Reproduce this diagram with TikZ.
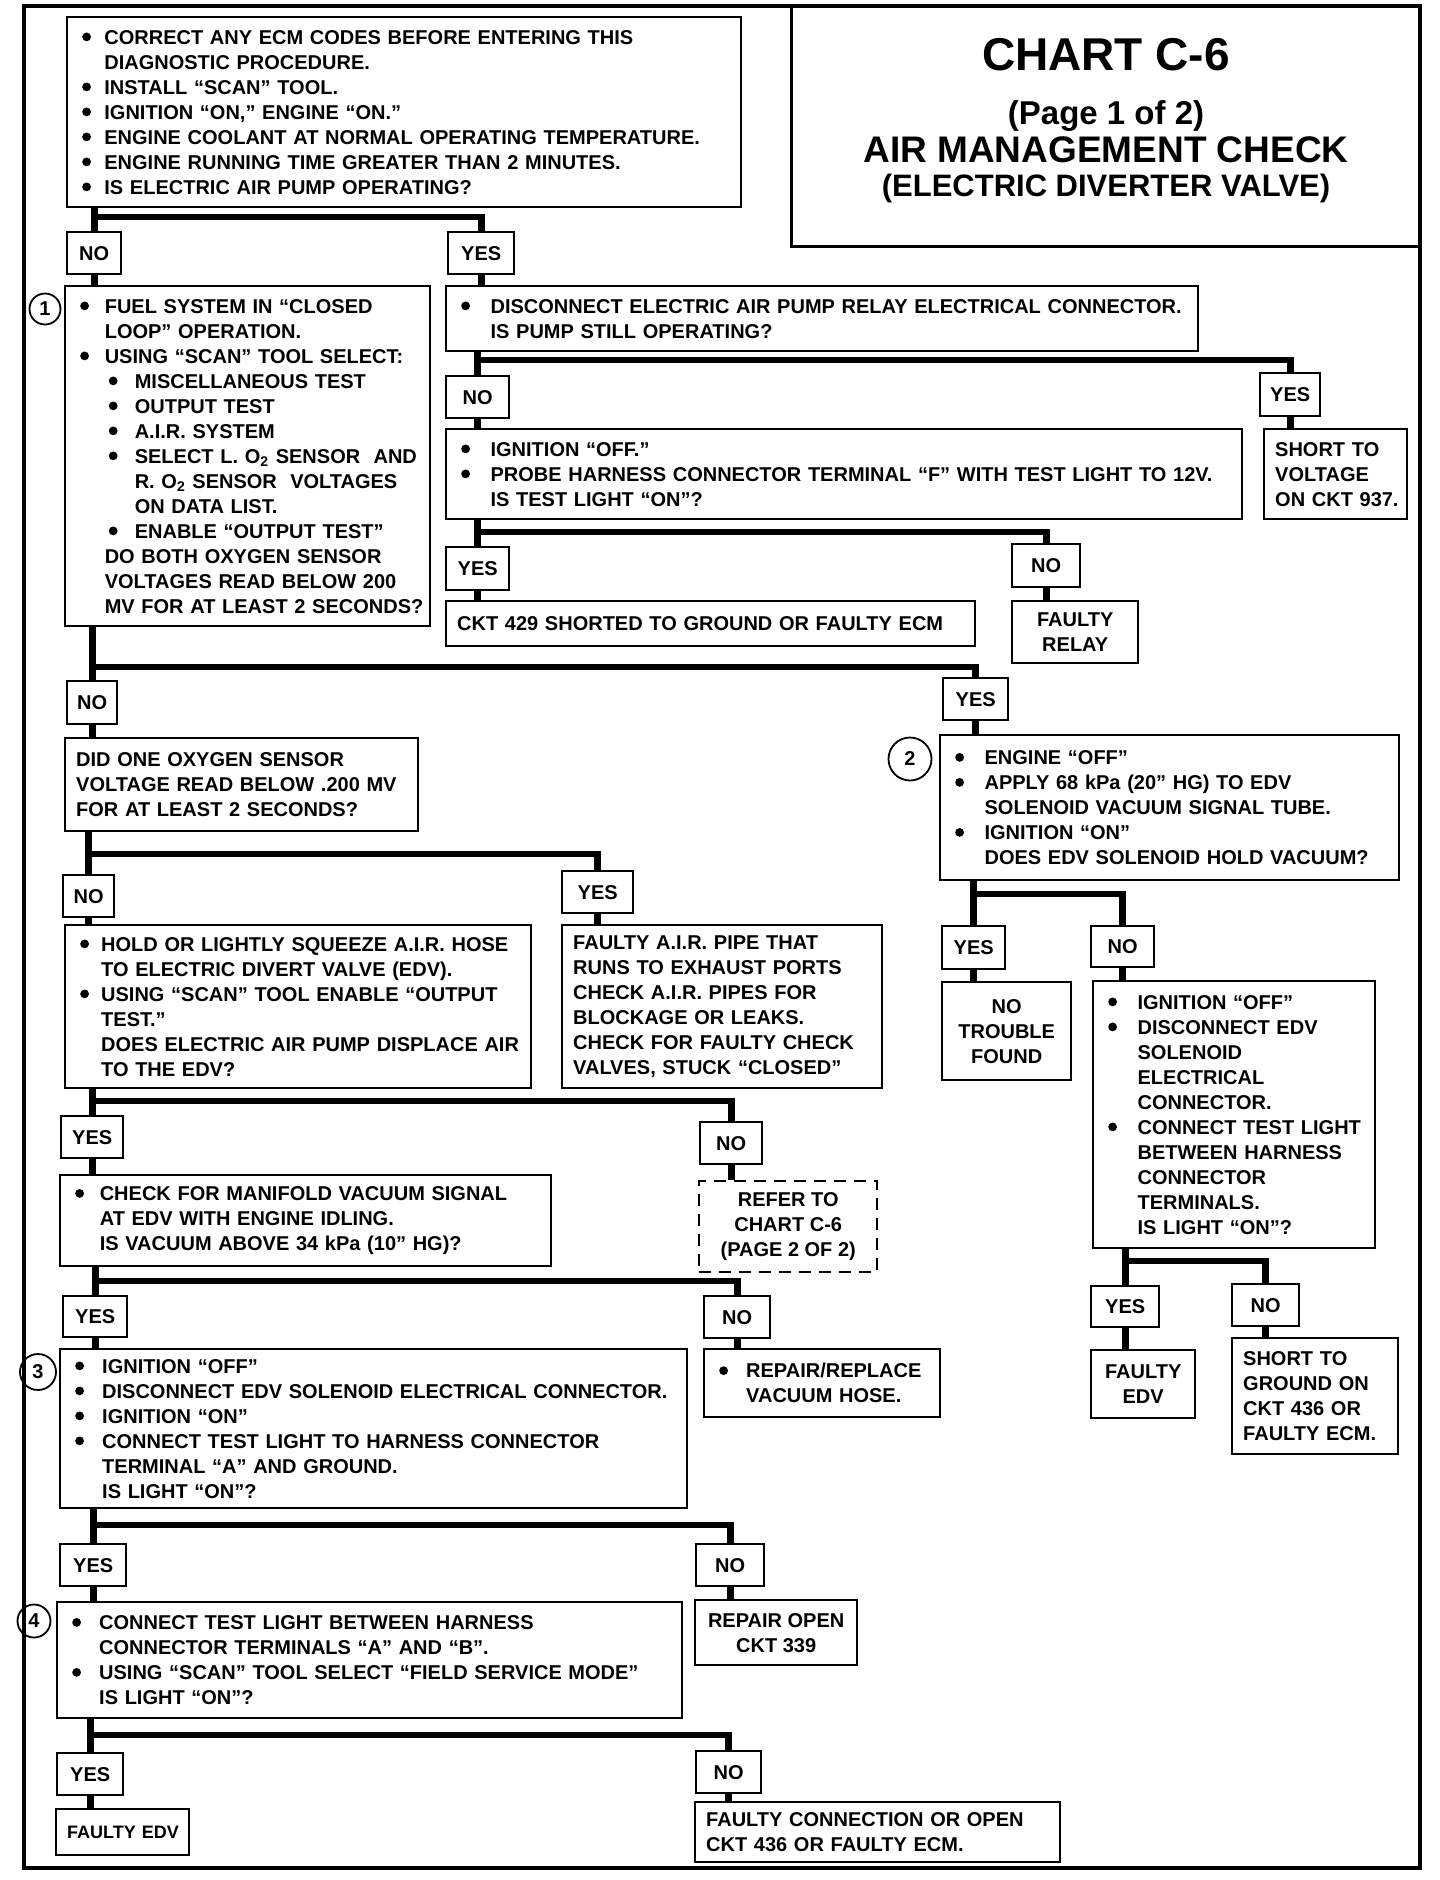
\documentclass[tikz,border=0pt]{standalone}
\usepackage{fontspec}
\setmainfont{Liberation Sans}
\usetikzlibrary{calc}
\tikzset{
  box/.style={draw, line width=1.2pt, inner xsep=5.5pt, inner ysep=2pt, align=left, font=\bfseries\fontsize{10}{12.5}\selectfont},
  cbox/.style={draw, line width=1.2pt, inner sep=2pt, align=center, font=\bfseries\fontsize{10}{12.5}\selectfont},
  conn/.style={line width=3.4pt},
  circ/.style={circle, draw, line width=0.9pt, inner sep=0pt, font=\bfseries\fontsize{10}{12}\selectfont},
  frame/.style={line width=1.8pt},
  ttl/.style={anchor=base, inner sep=0pt},
}
\def\IND{14pt}
\newcommand\myBul{\hspace{2pt}\tikz[baseline=0pt]\fill (2.2pt,3.6pt) circle[radius=2.2pt];}
\newcommand\Lb[2][\IND]{\makebox[#1][l]{\myBul}\mbox{#2}}
\newcommand\Lc[2][\IND]{\hspace*{#1}\mbox{#2}}
\newcommand\Ls[2][\IND]{\hspace*{#1}\makebox[15pt][l]{\myBul}\mbox{#2}}
\newcommand\Lss[2][\IND]{\hspace*{#1}\hspace*{15pt}\mbox{#2}}
\newcommand\Lp[1]{\mbox{#1}}
\newcommand\tbox[7][]{%
 \pgfmathsetmacro\myW{(#5-#3)*0.5}%
 \pgfmathsetmacro\myH{(#6-#4)*0.5}%
 \pgfmathsetmacro\myT{(#5-#3)*0.5-11}%
 \node[box, anchor=north west, minimum width=\myW pt, minimum height=\myH pt, text width=\myT pt, #1] (#2) at (#3,#4) {#7};}
\newcommand\cbx[7][]{%
 \pgfmathsetmacro\myW{(#5-#3)*0.5}%
 \pgfmathsetmacro\myH{(#6-#4)*0.5}%
 \node[cbox, anchor=north west, minimum width=\myW pt, minimum height=\myH pt, #1] (#2) at (#3,#4) {#7};}
\newcommand\mybranch[4]{%
 \draw[conn] (#1.south -| #2.north) -- (#2.north);
 \draw[conn] (#2.north |- #4) -| (#3.north);}
\newcommand\mystub[2]{\draw[conn] (#1.south) -- (#1.south |- #2.north);}
\begin{document}
\begin{tikzpicture}[x=0.5pt,y=-0.5pt]
\fill[white] (0,0) rectangle (1440,1880);
\useasboundingbox (0,0) rectangle (1440,1880);
\draw[frame] (24,6) rectangle (1420,1868);

% title
\cbx[draw=none, outer sep=0pt]{nTitle}{791}{6}{1420}{246}{}
\draw[line width=1.5pt] (nTitle.north west) |- (nTitle.south east);
\node[ttl, font=\bfseries\fontsize{23}{26}\selectfont] (t1) at (1106,70) {CHART C-6};
\node[ttl, font=\bfseries\fontsize{16.5}{18}\selectfont] (t2) at (1106,124) {(Page 1 of 2)};
\node[ttl, font=\bfseries\fontsize{18.5}{20}\selectfont] (t3) at (1106,162) {AIR MANAGEMENT CHECK};
\node[ttl, font=\bfseries\fontsize{15.5}{18}\selectfont] (t4) at (1106,196) {(ELECTRIC DIVERTER VALVE)};

% top box
\def\IND{13.1pt}
\tbox{nTop}{66}{16}{740}{206}{\Lb{CORRECT ANY ECM CODES BEFORE ENTERING THIS}\\
\Lc{DIAGNOSTIC PROCEDURE.}\\
\Lb{INSTALL “SCAN” TOOL.}\\
\Lb{IGNITION “ON,” ENGINE “ON.”}\\
\Lb{ENGINE COOLANT AT NORMAL OPERATING TEMPERATURE.}\\
\Lb{ENGINE RUNNING TIME GREATER THAN 2 MINUTES.}\\
\Lb{IS ELECTRIC AIR PUMP OPERATING?}}

\cbx{lNo1}{66}{231}{120}{273}{NO}
\cbx{lYes1}{447}{231}{513}{273}{YES}

% box 1
\node[circ, minimum size=15.5pt] (c1) at (45,309) {1};
\def\IND{14.3pt}
\tbox{b1}{64}{285}{429}{625}{\Lb{FUEL SYSTEM IN “CLOSED}\\
\Lc{LOOP” OPERATION.}\\
\Lb{USING “SCAN” TOOL SELECT:}\\
\Ls{MISCELLANEOUS TEST}\\
\Ls{OUTPUT TEST}\\
\Ls{A.I.R. SYSTEM}\\
\Ls{SELECT L. O\textsubscript{2} SENSOR~ AND}\\
\Lss{R. O\textsubscript{2} SENSOR~ VOLTAGES}\\
\Lss{ON DATA LIST.}\\
\Ls{ENABLE “OUTPUT TEST”}\\
\Lc{DO BOTH OXYGEN SENSOR}\\
\Lc{VOLTAGES READ BELOW 200}\\
\Lc{MV FOR AT LEAST 2 SECONDS?}}

% right column upper
\def\IND{16.7pt}
\tbox{bR1}{445}{285}{1197}{350}{\Lb{DISCONNECT ELECTRIC AIR PUMP RELAY ELECTRICAL CONNECTOR.}\\
\Lc{IS PUMP STILL OPERATING?}}
\cbx{lNo2}{445}{375}{508}{417}{NO}
\cbx{lYes2}{1259}{372}{1319}{415}{YES}
\tbox{bShortV}{1263}{428}{1406}{518}{\Lp{SHORT TO}\\ \Lp{VOLTAGE}\\ \Lp{ON CKT 937.}}
\tbox{bR2}{445}{428}{1241}{518}{\Lb{IGNITION “OFF.”}\\
\Lb{PROBE HARNESS CONNECTOR TERMINAL “F” WITH TEST LIGHT TO 12V.}\\
\Lc{IS TEST LIGHT “ON”?}}
\cbx{lYes3}{445}{546}{508}{589}{YES}
\cbx{lNo3}{1011}{543}{1079}{586}{NO}
\tbox{b429}{445}{600}{974}{645}{\Lp{CKT 429 SHORTED TO GROUND OR FAULTY ECM}}
\cbx{bRelay}{1011}{600}{1137}{662}{FAULTY\\RELAY}

\cbx{lNo4}{66}{680}{116}{723}{NO}
\cbx{lYes4}{942}{677}{1007}{719}{YES}

\tbox{bL2}{64}{737}{417}{830}{\Lp{DID ONE OXYGEN SENSOR}\\
\Lp{VOLTAGE READ BELOW .200 MV}\\
\Lp{FOR AT LEAST 2 SECONDS?}}

\node[circ, minimum size=21.5pt] (c2) at (910,759) {2};
\def\IND{16.7pt}
\tbox{bR3}{939}{734}{1398}{879}{\Lb{ENGINE “OFF”}\\
\Lb{APPLY 68 kPa (20” HG) TO EDV}\\
\Lc{SOLENOID VACUUM SIGNAL TUBE.}\\
\Lb{IGNITION “ON”}\\
\Lc{DOES EDV SOLENOID HOLD VACUUM?}}

\cbx{lNo5}{62}{874}{113}{916}{NO}
\cbx{lYes5}{561}{870}{632}{912}{YES}
\def\IND{12.5pt}
\tbox{bL3}{64}{924}{530}{1087}{\Lb{HOLD OR LIGHTLY SQUEEZE A.I.R. HOSE}\\
\Lc{TO ELECTRIC DIVERT VALVE (EDV).}\\
\Lb{USING “SCAN” TOOL ENABLE “OUTPUT}\\
\Lc{TEST.”}\\
\Lc{DOES ELECTRIC AIR PUMP DISPLACE AIR}\\
\Lc{TO THE EDV?}}
\tbox{bAir}{561}{924}{881}{1087}{\Lp{FAULTY A.I.R. PIPE THAT}\\
\Lp{RUNS TO EXHAUST PORTS}\\
\Lp{CHECK A.I.R. PIPES FOR}\\
\Lp{BLOCKAGE OR LEAKS.}\\
\Lp{CHECK FOR FAULTY CHECK}\\
\Lp{VALVES, STUCK “CLOSED”}}

\cbx{lYes6}{941}{925}{1004}{968}{YES}
\cbx{lNo6}{1090}{925}{1153}{966}{NO}
\cbx{bNTF}{941}{981}{1070}{1079}{NO\\TROUBLE\\FOUND}
\def\IND{16.7pt}
\tbox{bR4}{1092}{980}{1374}{1247}{\Lb{IGNITION “OFF”}\\
\Lb{DISCONNECT EDV}\\
\Lc{SOLENOID}\\
\Lc{ELECTRICAL}\\
\Lc{CONNECTOR.}\\
\Lb{CONNECT TEST LIGHT}\\
\Lc{BETWEEN HARNESS}\\
\Lc{CONNECTOR}\\
\Lc{TERMINALS.}\\
\Lc{IS LIGHT “ON”?}}

\cbx{lYes7}{60}{1115}{122}{1157}{YES}
\cbx{lNo7}{699}{1121}{761}{1163}{NO}
\def\IND{14.3pt}
\tbox{bL4}{59}{1174}{550}{1265}{\Lb{CHECK FOR MANIFOLD VACUUM SIGNAL}\\
\Lc{AT EDV WITH ENGINE IDLING.}\\
\Lc{IS VACUUM ABOVE 34 kPa (10” HG)?}}
\cbx[dashed, dash pattern=on 6pt off 4pt]{bRefer}{698}{1180}{876}{1271}{REFER TO\\CHART C-6\\(PAGE 2 OF 2)}

\cbx{lYes8}{62}{1295}{126}{1336}{YES}
\cbx{lNo8}{703}{1295}{769}{1337}{NO}
\node[circ, minimum size=18pt] (c3) at (38,1372) {3};
\def\IND{15.5pt}
\tbox{bL5}{59}{1348}{686}{1507}{\Lb{IGNITION “OFF”}\\
\Lb{DISCONNECT EDV SOLENOID ELECTRICAL CONNECTOR.}\\
\Lb{IGNITION “ON”}\\
\Lb{CONNECT TEST LIGHT TO HARNESS CONNECTOR}\\
\Lc{TERMINAL “A” AND GROUND.}\\
\Lc{IS LIGHT “ON”?}}
\tbox{bRepl}{703}{1348}{939}{1416}{\Lb{REPAIR/REPLACE}\\
\Lc{VACUUM HOSE.}}

\cbx{lYes9}{1090}{1285}{1158}{1326}{YES}
\cbx{lNo9}{1231}{1283}{1298}{1325}{NO}
\cbx{bFEdv1}{1090}{1349}{1194}{1417}{FAULTY\\EDV}
\tbox{bSG}{1231}{1337}{1397}{1453}{\Lp{SHORT TO}\\
\Lp{GROUND ON}\\
\Lp{CKT 436 OR}\\
\Lp{FAULTY ECM.}}

\cbx{lYes10}{59}{1543}{125}{1585}{YES}
\cbx{lNo10}{695}{1543}{763}{1585}{NO}
\node[circ, minimum size=16.5pt] (c4) at (34,1621) {4};
\def\IND{15.5pt}
\tbox{bL6}{56}{1601}{681}{1717}{\Lb{CONNECT TEST LIGHT BETWEEN HARNESS}\\
\Lc{CONNECTOR TERMINALS “A” AND “B”.}\\
\Lb{USING “SCAN” TOOL SELECT “FIELD SERVICE MODE”}\\
\Lc{IS LIGHT “ON”?}}
\cbx{bOpen}{694}{1599}{856}{1664}{REPAIR OPEN\\CKT 339}

\cbx{lYes11}{56}{1752}{122}{1794}{YES}
\cbx{lNo11}{695}{1750}{760}{1792}{NO}
\tbox[inner xsep=4pt, font=\bfseries\fontsize{9}{12}\selectfont]{bFEdv2}{55}{1808}{188}{1854}{\Lp{FAULTY EDV}}
\tbox{bFConn}{694}{1801}{1059}{1861}{\Lp{FAULTY CONNECTION OR OPEN}\\
\Lp{CKT 436 OR FAULTY ECM.}}

% junction levels
\coordinate (h1) at (0,217);
\coordinate (h2) at (0,360);
\coordinate (h3) at (0,532);
\coordinate (h4) at (0,667);
\coordinate (h5) at (0,854);
\coordinate (h6) at (0,894);
\coordinate (h7) at (0,1101);
\coordinate (h8) at (0,1281);
\coordinate (h9) at (0,1261);
\coordinate (h10) at (0,1525);
\coordinate (h11) at (0,1735);

% connectors
\mybranch{nTop}{lNo1}{lYes1}{h1}
\mystub{lNo1}{b1}
\mystub{lYes1}{bR1}
\mybranch{bR1}{lNo2}{lYes2}{h2}
\mystub{lNo2}{bR2}
\mystub{lYes2}{bShortV}
\mybranch{bR2}{lYes3}{lNo3}{h3}
\mystub{lYes3}{b429}
\mystub{lNo3}{bRelay}
\mybranch{b1}{lNo4}{lYes4}{h4}
\mystub{lNo4}{bL2}
\mystub{lYes4}{bR3}
\mybranch{bL2}{lNo5}{lYes5}{h5}
\mystub{lNo5}{bL3}
\mystub{lYes5}{bAir}
\mybranch{bR3}{lYes6}{lNo6}{h6}
\mystub{lYes6}{bNTF}
\mystub{lNo6}{bR4}
\mybranch{bL3}{lYes7}{lNo7}{h7}
\mystub{lYes7}{bL4}
\mystub{lNo7}{bRefer}
\mybranch{bL4}{lYes8}{lNo8}{h8}
\mystub{lYes8}{bL5}
\mystub{lNo8}{bRepl}
\mybranch{bR4}{lYes9}{lNo9}{h9}
\mystub{lYes9}{bFEdv1}
\mystub{lNo9}{bSG}
\mybranch{bL5}{lYes10}{lNo10}{h10}
\mystub{lYes10}{bL6}
\mystub{lNo10}{bOpen}
\mybranch{bL6}{lYes11}{lNo11}{h11}
\mystub{lYes11}{bFEdv2}
\mystub{lNo11}{bFConn}
\end{tikzpicture}
\end{document}
